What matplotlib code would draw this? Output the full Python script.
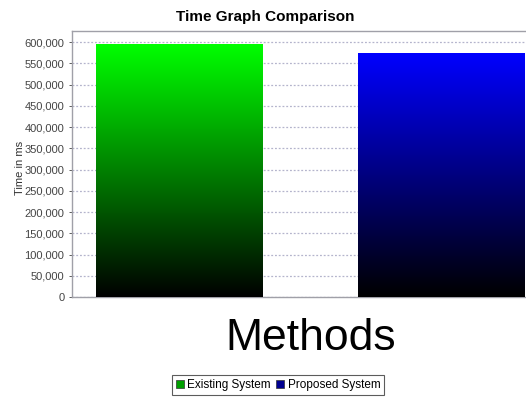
import matplotlib.pyplot as plt
import numpy as np
from matplotlib.ticker import FuncFormatter
from matplotlib.colors import LinearSegmentedColormap

plt.rcParams['font.family'] = ['Liberation Sans', 'DejaVu Sans']

series = ["Existing System", "Proposed System"]
czasy = [595000, 573000]
kolory = ["#00ff00", "#0000ff"]
yticks = list(range(0, 600001, 50000))

fig = plt.figure(figsize=(5.26, 3.98), dpi=100)
ax = fig.add_axes([72 / 526, 1 - 297 / 398, 1 - 72 / 526 + 0.05, (297 - 31) / 398])

pozycje = np.arange(len(series))
slupki = ax.bar(pozycje, czasy, width=0.637, color=kolory, label=series, zorder=2)

# gradient od koloru do czarnego w kazdym slupku
grad = np.linspace(0, 1, 256).reshape(-1, 1)
for s, k in zip(slupki, kolory):
    cmap = LinearSegmentedColormap.from_list("g", ["black", k])
    x0, y0 = s.get_x(), s.get_y()
    ax.imshow(grad, cmap=cmap, aspect="auto", origin="lower",
              extent=[x0, x0 + s.get_width(), y0, y0 + s.get_height()], zorder=3)
    s.set_facecolor("none")
    s.set_edgecolor("none")

ax.set_xlim(-0.41, 1.423)
ax.set_ylim(0, 626000)
ax.set_yticks(yticks)
ax.yaxis.set_major_formatter(FuncFormatter(lambda v, p: f"{int(v):,}"))
ax.tick_params(axis="y", labelsize=8, colors="#444444", length=2, width=0.6)
ax.set_xticks([])
ax.grid(axis="y", color="#b4b4cc", linestyle=(0, (1.5, 1.5)), linewidth=0.9, zorder=1)

for sp in ["left", "bottom", "top"]:
    ax.spines[sp].set_color("#a0a0a8")
    ax.spines[sp].set_linewidth(1.0)
ax.spines["right"].set_visible(False)

fig.text(265 / 526, 1 - 17 / 398, "Time Graph Comparison", ha="center", va="center",
         fontsize=11, fontweight="bold")
fig.text(20 / 526, 1 - 168 / 398, "Time in ms", rotation=90, ha="center", va="center",
         fontsize=8, color="#333333")
fig.text(311 / 526, 1 - 338 / 398, "Methods", ha="center", va="center", fontsize=32)

uchwyty = [plt.Rectangle((0, 0), 1, 1, facecolor=c, edgecolor="#333333", linewidth=0.5)
           for c in ["#00a000", "#000090"]]
leg = fig.legend(uchwyty, series, loc="center", bbox_to_anchor=(278 / 526, 1 - 385 / 398),
                 ncol=2, fontsize=8.5, frameon=True, fancybox=False, handlelength=0.7,
                 handleheight=0.7, handletextpad=0.3, columnspacing=0.4,
                 borderpad=0.3, borderaxespad=0)
leg.get_frame().set_edgecolor("#333333")
leg.get_frame().set_linewidth(0.8)

fig.savefig("out.png", dpi=100)
